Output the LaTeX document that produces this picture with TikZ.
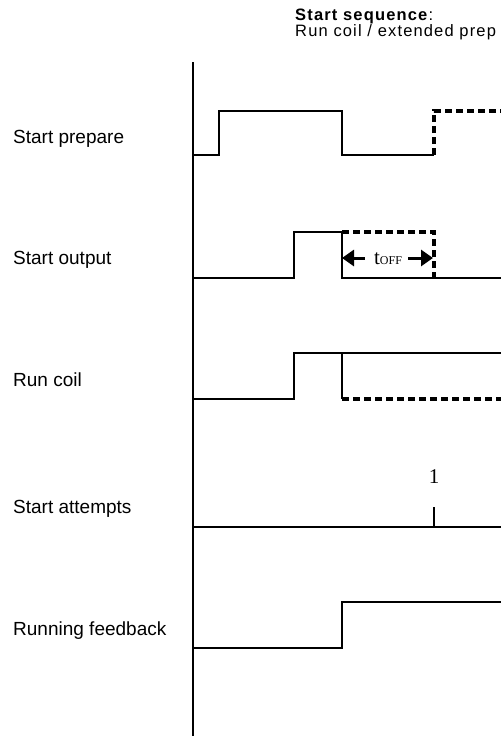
\documentclass[tikz,border=0pt]{standalone}
\usepackage{fontspec}
\setmainfont{Liberation Sans}
\newfontfamily\timesface{Liberation Serif}
\newfontfamily\spacedface[LetterSpace=7]{Liberation Sans}
\usetikzlibrary{arrows.meta, positioning}

\begin{document}
\begin{tikzpicture}[
			x=1pt, y=-1pt,
			every node/.style={
				inner sep=0pt,
				font=\fontsize{19}{22}\selectfont
			},
			siglabel/.style={anchor=base west},
			signal/.style={line width=2pt, line join=miter},
			extended/.style={line width=3.2pt, dash pattern=on 7pt off 4pt}, % extended prepare
			toffarrow/.style={-{Triangle[length=12pt, width=16pt]}, line width=3pt},
			headline/.style={anchor=base west, align=left, font=\spacedface\fontsize{16.5}{16}\selectfont}
			]
			\useasboundingbox (0,0) rectangle (501,736);
			
			% -------- Title --------
			\node[headline] (title) at (295,36) {\textbf{Start sequence}:\\Run coil / extended prep};
			
			% -------- Time axis --------
			\coordinate (axtop) at (193,62);
			\coordinate (axbot) at (193,736);
			\draw[signal] (axtop) -- (axbot);
			
			% -------- Start prepare --------
			\node[siglabel] (lprep) at (13,143) {Start prepare};
			\draw[signal] (193,155) -- (219,155) -- (219,111) -- (342,111) -- (342,155) -- (434,155);
			\draw[extended] (434,155) -- (434,111) -- (501,111);
			
			% -------- Start output --------
			\node[siglabel] (lout) at (13,264) {Start output};
			\draw[signal] (193,278) -- (294,278) -- (294,232) -- (342,232) -- (342,278) -- (501,278);
			\draw[extended] (342,232) -- (434,232) -- (434,281);
			\node (toff) at (388,259) {{\timesface\fontsize{21}{21}\selectfont t}{\timesface\fontsize{12}{12}\selectfont OFF}};
			\coordinate (offstart) at (342,258);
			\coordinate (offend) at (433,258);
			\draw[toffarrow] ([xshift=-9pt]toff.west|-offstart) -- (offstart);
			\draw[toffarrow] ([xshift=6pt]toff.east|-offend) -- (offend);
			
			% -------- Run coil --------
			\node[siglabel] (lcoil) at (13,386) {Run coil};
			\draw[signal] (193,399) -- (294,399) -- (294,353) -- (501,353);
			\draw[signal] (342,353) -- (342,399);
			\draw[extended] (342,399) -- (501,399);
			
			% -------- Start attempts --------
			\node[siglabel] (latt) at (13,513) {Start attempts};
			\draw[signal] (193,527) -- (501,527);
			\draw[signal] (434,527) -- (434,507);
			\node (count) at (434,477) {\timesface\fontsize{21}{21}\selectfont 1};
			
			% -------- Running feedback --------
			\node[siglabel] (lfb) at (13,635) {Running feedback};
			\draw[signal] (193,648) -- (342,648) -- (342,602) -- (501,602);
			
	\end{tikzpicture}
\end{document}
